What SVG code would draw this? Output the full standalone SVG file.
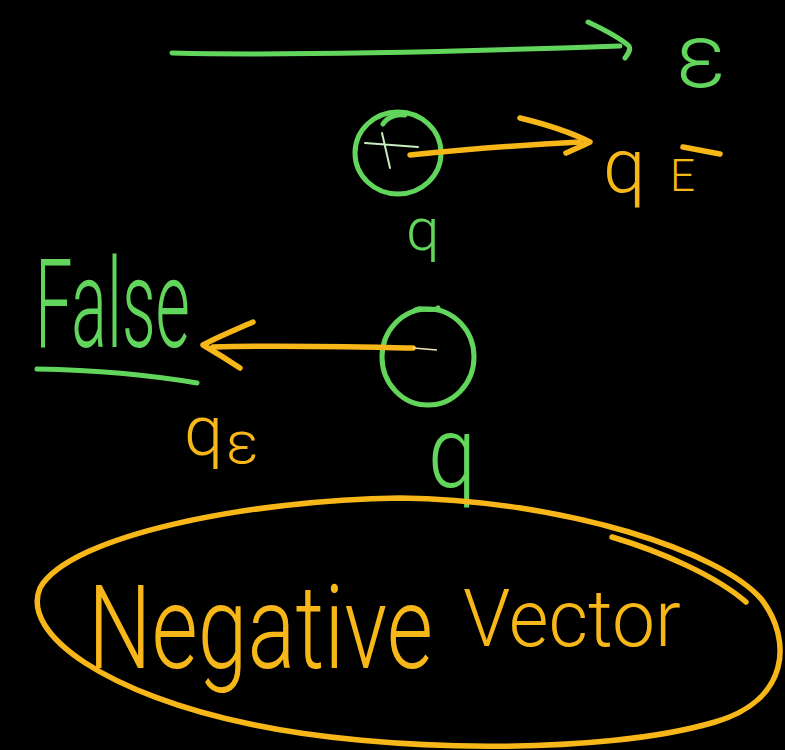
<svg xmlns="http://www.w3.org/2000/svg" width="785" height="750" viewBox="0 0 785 750">
<style>
.g{fill:none;stroke:#62d65c;stroke-width:5;stroke-linecap:round;stroke-linejoin:round}
.o{fill:none;stroke:#f8b719;stroke-width:5.5;stroke-linecap:round;stroke-linejoin:round}
.thin{fill:none;stroke:#c9ecc0;stroke-width:2;stroke-linecap:round}
.tg{fill:#62d65c;font-family:Roboto,"DejaVu Sans",sans-serif;font-weight:300}
.to{fill:#f8b719;font-family:Roboto,"DejaVu Sans",sans-serif;font-weight:300}
</style>
<rect width="785" height="750" fill="#000"/>

<g id="field">
  <path class="g" d="M172,53 C300,56 450,52 620,46"/>
  <path class="g" d="M588,22 C605,30 620,38 629,46 C631,50 628,54 625,58"/>
  <text class="tg" x="676" y="87" font-size="90" textLength="50" lengthAdjust="spacingAndGlyphs">ε</text>
</g>

<g id="charge-positive">
  <ellipse class="g" cx="398" cy="153" rx="43" ry="41"/>
  <path class="g" d="M383,124 C388,116 398,114 405,115" stroke-width="3"/>
  <path class="thin" d="M365,143 L418,147 M382,133 L390,168"/>
  <text class="tg" x="406" y="250" font-size="60">q</text>
</g>

<g id="charge-negative">
  <ellipse class="g" cx="428" cy="357" rx="46" ry="48"/>
  <path class="g" d="M414,311 C420,305 430,313 438,308" stroke-width="2.5"/>
  <text class="tg" x="428" y="487" font-size="100" textLength="48" lengthAdjust="spacingAndGlyphs">q</text>
</g>

<g id="false-label">
  <text class="tg" transform="translate(35,347) scale(1,1.75)" x="0" y="0" font-size="71" textLength="155" lengthAdjust="spacingAndGlyphs">False</text>
  <path class="g" d="M37,369 C90,370 150,375 197,383"/>
</g>

<g id="label-qE-right">
  <text class="to" x="603" y="192" font-size="76">q</text>
  <text class="to" x="670" y="191" font-size="44">E</text>
  <path class="o" d="M683,147 L720,154" stroke-width="3"/>
</g>

<g id="label-qE-left">
  <text class="to" x="184" y="455" font-size="70">q</text>
  <text class="to" x="226" y="463" font-size="60">ε</text>
</g>

<g id="negative-vector">
  <path class="o" d="M400,498 C250,500 70,535 40,588 C20,635 110,695 250,724 C380,752 600,756 715,722 C790,700 792,640 762,600 C722,552 565,500 400,498 Z"/>
  <path class="o" d="M612,537 C662,552 716,576 746,602" stroke-width="2"/>
  <text class="to" transform="translate(88,668) scale(1,1.32)" x="0" y="0" font-size="88" textLength="345" lengthAdjust="spacingAndGlyphs">Negative</text>
  <text class="to" x="463" y="646" font-size="80" textLength="218" lengthAdjust="spacingAndGlyphs">Vector</text>
</g>

<g id="connectors">
  <path class="o" d="M410,155 C460,150 520,145 580,142"/>
  <path class="o" d="M520,118 C545,124 570,132 590,142 C580,147 572,150 566,153"/>
  <path class="o" d="M413,348 C360,347 280,345 213,347"/>
  <path d="M413,348 L437,350" fill="none" stroke="#f3e3b0" stroke-width="1.5"/>
  <path class="o" d="M253,322 C235,330 215,338 203,345 C215,352 228,360 240,368"/>
</g>
</svg>
